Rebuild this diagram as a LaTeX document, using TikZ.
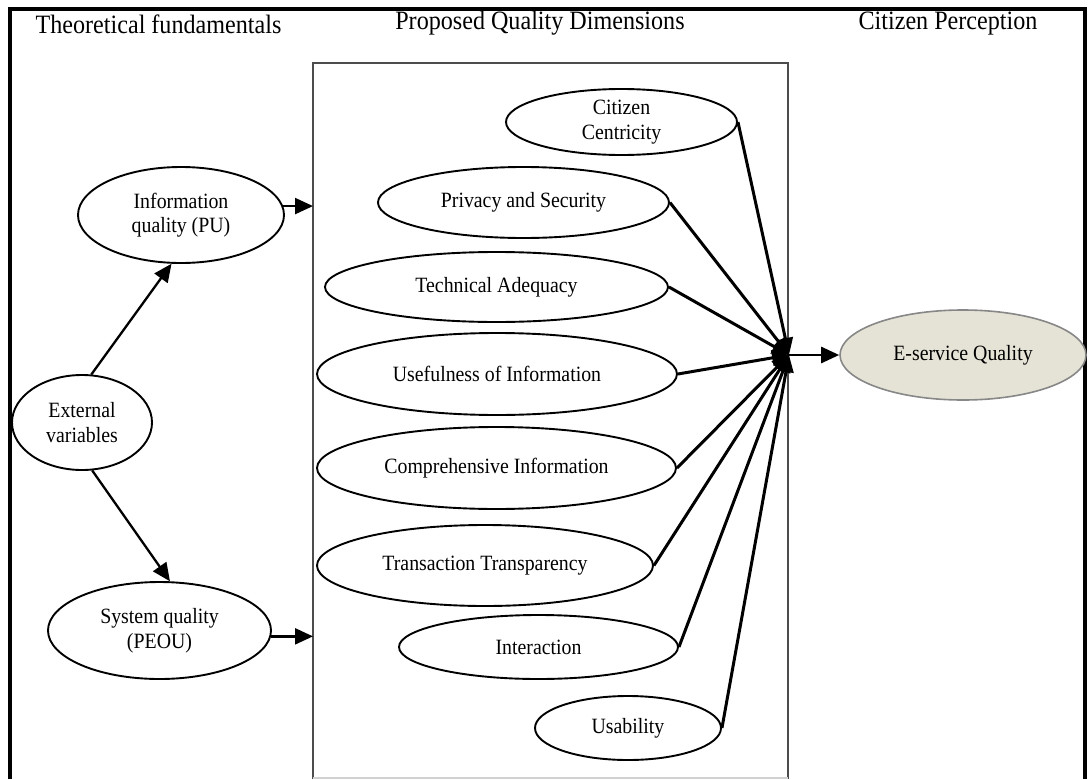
\documentclass[tikz,border=0pt]{standalone}
\usepackage{fontspec}
\setmainfont[FakeStretch=0.91]{Liberation Serif}
\usetikzlibrary{shapes.geometric,arrows.meta}
\definecolor{beige}{RGB}{229,227,214}
\definecolor{rimgray}{RGB}{135,135,135}
\begin{document}
\begin{tikzpicture}[x=1pt,y=-1pt,
  oval/.style={draw, ellipse, line width=1.9pt, inner sep=0pt, align=center,
               font=\fontsize{21.8}{24.5}\selectfont},
  heading/.style={inner sep=0pt, anchor=base, font=\fontsize{26.5}{30}\selectfont},
  feed/.style={line width=3pt, -{Triangle[length=17pt,width=15pt]}},
  flow/.style={line width=2.3pt, -{Triangle[length=18pt,width=16pt]}},
]
\useasboundingbox (0,0) rectangle (1092,779);

% outer frame (open at the bottom)
\draw[line width=3.2pt] (10,779) -- (10,9) -- (1085,9) -- (1085,779);

% headings
\node[heading] (h1) at (158.5,33) {Theoretical fundamentals};
\node[heading] (h2) at (540,29) {Proposed Quality Dimensions};
\node[heading] (h3) at (948,29) {Citizen Perception};

% box of proposed dimensions
\draw[line width=1.8pt, draw=black!70] (313,779) -- (313,63) -- (788,63) -- (788,779);
\draw[line width=1.2pt, draw=black!18] (313,778) -- (788,778);
\coordinate (boxleft) at (313,400);
\coordinate (hub) at (789,355);

% theoretical fundamentals
\node[oval, minimum width=206pt, minimum height=96pt] (info) at (181,215) {Information\\quality (PU)};
\node[oval, minimum width=140pt, minimum height=95pt] (ext) at (82,422.5) {External\\variables};
\node[oval, minimum width=223pt, minimum height=97pt] (sys) at (159.5,630.5) {System quality\\(PEOU)};

\draw[flow] (ext.79) -- (info.259);
\draw[flow] (ext.-78) -- (sys.78);
\draw[flow] (info.5) -- (info.5 -| boxleft);
\draw[flow] (sys.-3) -- (sys.-3 -| boxleft);

% quality dimensions
\node[oval, minimum width=231pt, minimum height=66pt] (cc) at (621.5,122) {Citizen\\Centricity};
\node[oval, minimum width=291pt, minimum height=71pt] (ps) at (523.5,202.5) {Privacy and Security};
\node[oval, minimum width=343pt, minimum height=70pt] (ta) at (496.5,287) {Technical Adequacy};
\node[oval, minimum width=360pt, minimum height=82pt] (ui) at (497,374) {Usefulness of Information};
\node[oval, minimum width=359pt, minimum height=82pt] (ci) at (496.5,468) {Comprehensive Information};
\node[oval, minimum width=336pt, minimum height=81pt] (tt) at (485,565.5) {Transaction Transparency};
\node[oval, minimum width=279pt, minimum height=64pt] (ia) at (538.5,647) {Interaction};
\node[oval, minimum width=186pt, minimum height=64pt] (us) at (628,728) {Usability};

% citizen perception
\node[oval, draw=rimgray, fill=beige, line width=1.6pt, minimum width=246pt, minimum height=90pt] (eq) at (963,355) {E-service Quality};

\foreach \d in {cc,ps,ta,ui,ci,tt,ia,us}
  \draw[feed] (\d.east) -- (hub);
\draw[flow, line width=2.6pt] (hub) -- (eq.west);
\end{tikzpicture}
\end{document}
